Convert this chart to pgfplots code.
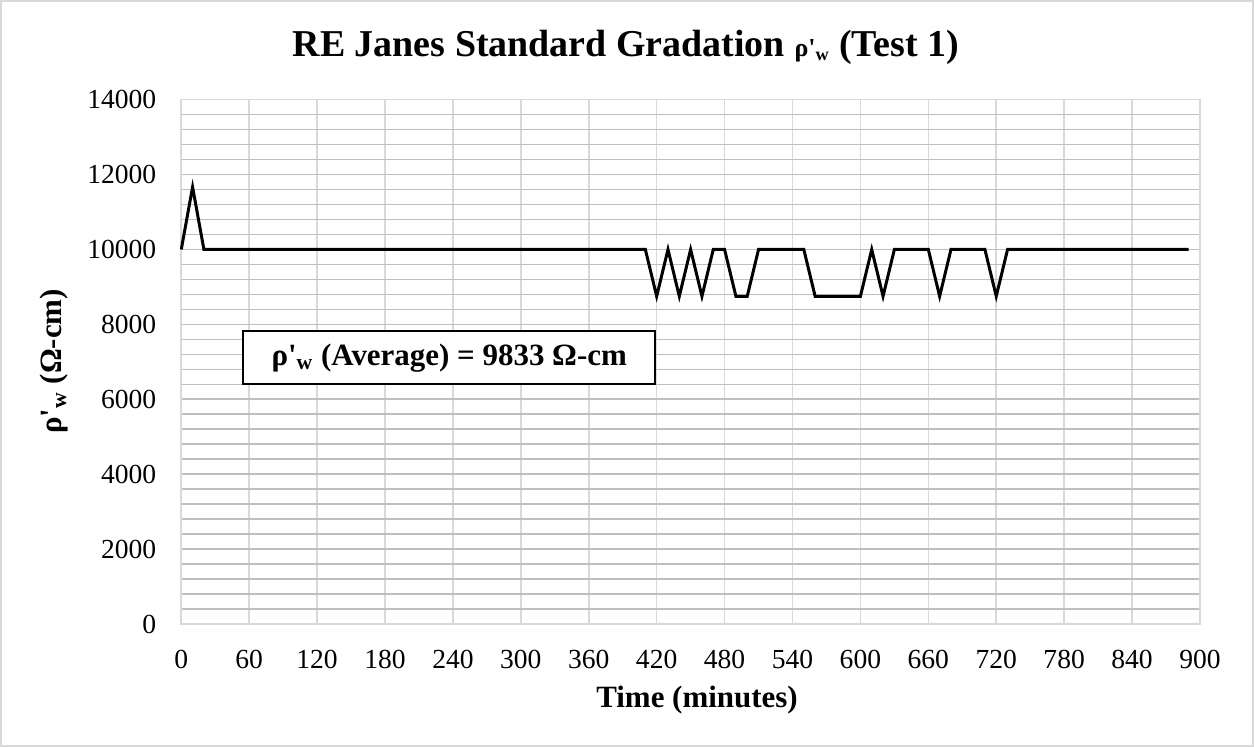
\documentclass[border=0pt]{standalone}
\usepackage{pgfplots}
\pgfplotsset{compat=1.18}
\usepackage{fontspec}
\setmainfont{Liberation Serif}[Ligatures=TeXOff]
\definecolor{vgrid}{HTML}{D9D9D9}
\definecolor{hgrid}{HTML}{BFBFBF}
\definecolor{frame}{HTML}{D9D9D9}
\begin{document}
\begin{tikzpicture}
\begin{axis}[
  at={(0,0)}, anchor=south west,
  scale only axis, width=510pt, height=262.5pt,
  xmin=0, xmax=900, ymin=0, ymax=14000,
  xtick={0,60,...,900}, ytick={0,2000,...,14000},
  minor y tick num=4,
  ymajorgrids, yminorgrids, xmajorgrids,
  x grid style={vgrid, line width=0.8pt},
  y grid style={hgrid, line width=0.8pt},
  axis line style={draw=vgrid, line width=0.8pt},
  major tick length=0pt, minor tick length=0pt,
  scaled y ticks=false,
  /pgf/number format/assume math mode=true,
  /pgf/number format/1000 sep={},
  /pgf/number format/fixed,
  ticklabel style={font=\fontsize{13.8}{16}\selectfont},
  xticklabel style={yshift=-9.5pt},
  yticklabel style={xshift=-9pt},
  clip=false,
]
\addplot[black, line width=1.5pt] coordinates {
(0,10000)(10,11667)(20,10000)(410,10000)(420,8750)(430,10000)(440,8750)(450,10000)(460,8750)(470,10000)(480,10000)(490,8750)(500,8750)(510,10000)(550,10000)(560,8750)(600,8750)(610,10000)(620,8750)(630,10000)(660,10000)(670,8750)(680,10000)(710,10000)(720,8750)(730,10000)(890,10000)
};
\end{axis}
% frame
\draw[frame, line width=0.8pt] (-90.35pt,-61pt) rectangle (536.65pt,312pt);
% title
\node[font=\fontsize{19}{22}\selectfont\bfseries] at (222.6pt,288.5pt) {RE Janes Standard Gradation {\fontsize{13}{15}\selectfont ρ'\textsubscript{w}} (Test 1)};
% x label
\node[font=\fontsize{15.5}{18}\selectfont\bfseries] at (258.2pt,-38pt) {Time (minutes)};
% y label
\node[font=\fontsize{15.5}{18}\selectfont\bfseries, rotate=90] at (-63.5pt,131.5pt) {ρ'\textsubscript{w} (Ω-cm)};
% annotation
\node[draw=black, line width=1pt, fill=white, minimum width=206pt, minimum height=26.5pt, font=\fontsize{15.5}{18}\selectfont\bfseries] at (134.15pt,133.25pt) {ρ'\textsubscript{w} (Average) = 9833 Ω-cm};
\end{tikzpicture}
\end{document}
